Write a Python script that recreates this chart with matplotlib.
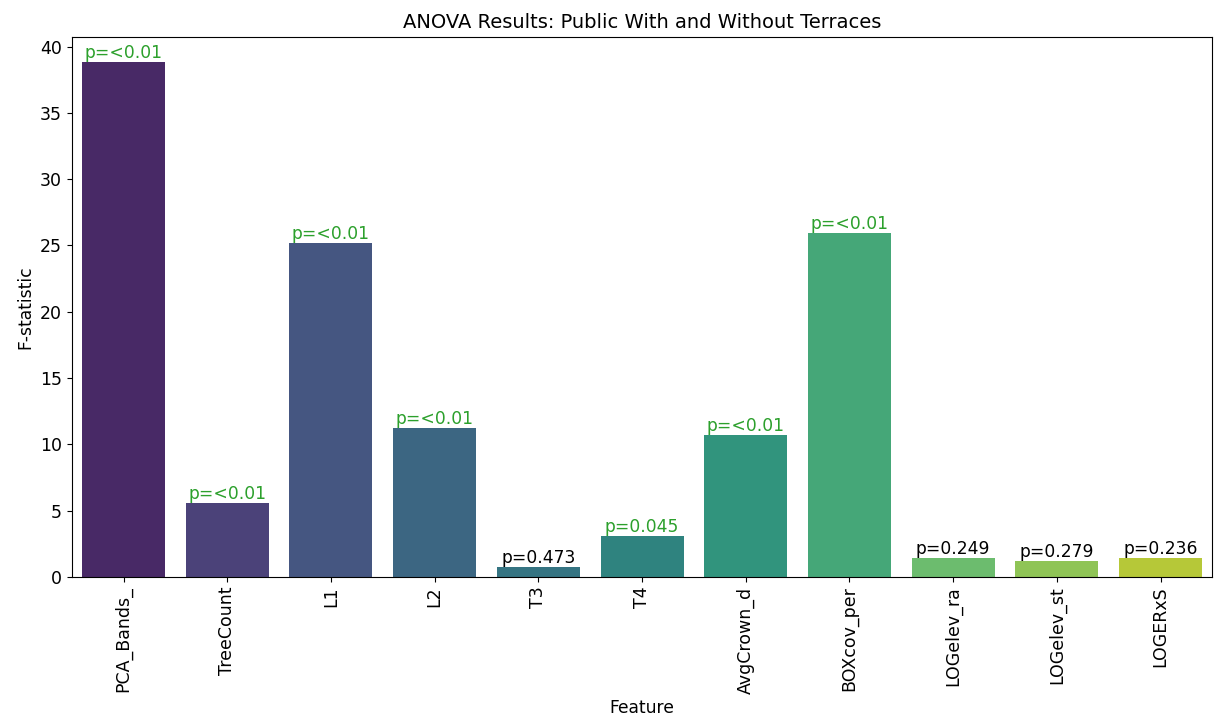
import numpy as np
import matplotlib.pyplot as plt
import seaborn as sns

features = ['PCA_Bands_', 'TreeCount', 'L1', 'L2', 'T3', 'T4', 'AvgCrown_d',
            'BOXcov_per', 'LOGelev_ra', 'LOGelev_st', 'LOGERxS']
f_stats = [38.8, 5.6, 25.2, 11.2, 0.75, 3.05, 10.7, 25.9, 1.42, 1.2, 1.42]
p_labels = ['<0.01', '<0.01', '<0.01', '<0.01', '0.473', '0.045', '<0.01',
            '<0.01', '0.249', '0.279', '0.236']
significant = [True, True, True, True, False, True, True, True, False, False, False]

fig, ax = plt.subplots(figsize=(12.16, 7.21), dpi=100)
fig.subplots_adjust(left=0.059, right=0.997, top=0.949, bottom=0.2)

colors = sns.color_palette('viridis', len(features))
sns.barplot(x=features, y=f_stats, hue=features, palette=colors, legend=False, ax=ax)

for bar, p, sig in zip(ax.patches, p_labels, significant):
    ax.text(bar.get_x() + bar.get_width() / 2, bar.get_height(), 'p=' + p,
            ha='center', va='bottom', fontsize=12.3,
            color='tab:green' if sig else 'black')

ax.set_title('ANOVA Results: Public With and Without Terraces', fontsize=14)
ax.set_xlabel('Feature', fontsize=12.3)
ax.set_ylabel('F-statistic', fontsize=12.3)
ax.tick_params(axis='both', labelsize=12.5)
plt.xticks(rotation=90)

fig.savefig('out.png', dpi=100)
